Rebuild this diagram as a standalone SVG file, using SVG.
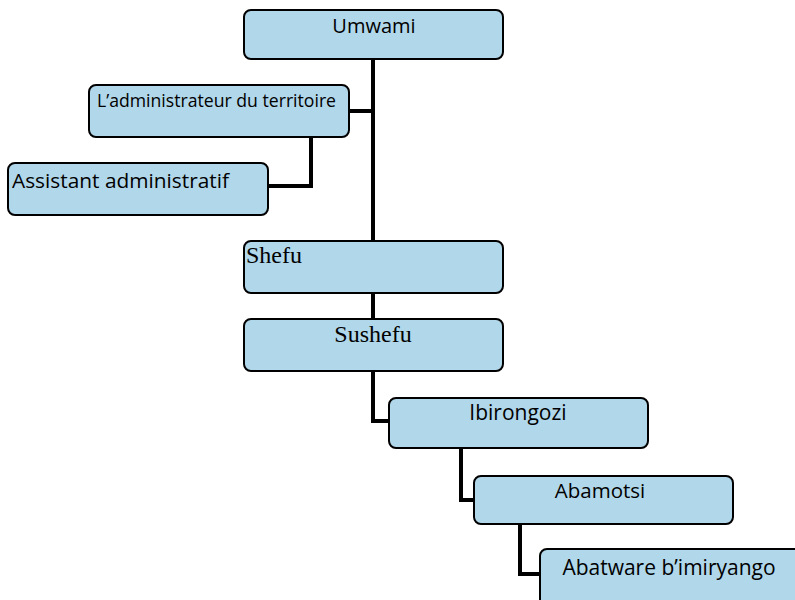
<svg xmlns="http://www.w3.org/2000/svg" width="795" height="600" viewBox="0 0 795 600">
<style>
.box{fill:#b1d7ea;stroke:#000;stroke-width:2}
.c{fill:none;stroke:#000;stroke-width:4}
.s{font-family:"Open Sans","Liberation Sans",sans-serif;fill:#000}
.t{font-family:"Liberation Serif",serif;fill:#000}
</style>
<rect width="795" height="600" fill="#fff"/>
<g id="connectors">
<path class="c" d="M373 59V242"/>
<path class="c" d="M349 111H373"/>
<path class="c" d="M311 137V186H268"/>
<path class="c" d="M373 293V319"/>
<path class="c" d="M373 371V421H389"/>
<path class="c" d="M461 448V500H474"/>
<path class="c" d="M520 524V574H540"/>
</g>
<g id="umwami"><rect class="box" x="244" y="10" width="259" height="49" rx="7"/><text class="s" x="374" y="33" font-size="20" text-anchor="middle">Umwami</text></g>
<g id="administrateur"><rect class="box" x="89" y="85" width="260" height="52" rx="7"/><text class="s" x="97" y="107" font-size="17.5" textLength="239" lengthAdjust="spacingAndGlyphs">L’administrateur du territoire</text></g>
<g id="assistant"><rect class="box" x="8" y="163" width="260" height="52" rx="7"/><text class="s" x="12" y="188" font-size="20.5" textLength="217" lengthAdjust="spacingAndGlyphs">Assistant administratif</text></g>
<g id="shefu"><rect class="box" x="244" y="241" width="259" height="52" rx="7"/><text class="t" x="246" y="263" font-size="24">Shefu</text></g>
<g id="sushefu"><rect class="box" x="244" y="319" width="259" height="52" rx="7"/><text class="t" x="373" y="342" font-size="24" text-anchor="middle">Sushefu</text></g>
<g id="ibirongozi"><rect class="box" x="389" y="398" width="259" height="50" rx="7"/><text class="s" x="518" y="420" font-size="21" text-anchor="middle">Ibirongozi</text></g>
<g id="abamotsi"><rect class="box" x="474" y="476" width="259" height="48" rx="7"/><text class="s" x="600" y="498" font-size="20.5" text-anchor="middle">Abamotsi</text></g>
<g id="abatware"><rect class="box" x="540" y="549" width="262" height="60" rx="7"/><text class="s" x="669" y="575" font-size="21" text-anchor="middle">Abatware b’imiryango</text></g>
</svg>
